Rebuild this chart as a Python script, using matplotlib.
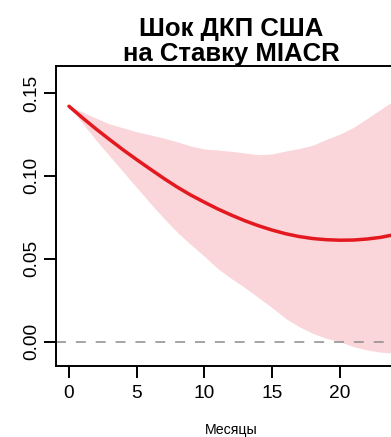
import matplotlib
matplotlib.use("Agg")
import matplotlib.pyplot as plt

# months 0..24 and impulse response values
months = list(range(25))
irf = [0.1420, 0.1350, 0.1283, 0.1219, 0.1157, 0.1098, 0.1041, 0.0985, 0.0932,
       0.0884, 0.0841, 0.0800, 0.0763, 0.0729, 0.0699, 0.0673, 0.0651, 0.0634,
       0.0622, 0.0615, 0.0612, 0.0613, 0.0619, 0.0629, 0.0645]
upper = [0.1420, 0.1385, 0.1348, 0.1313, 0.1290, 0.1266, 0.1247, 0.1228, 0.1205,
         0.1180, 0.1162, 0.1156, 0.1148, 0.1138, 0.1128, 0.1132, 0.1150, 0.1165,
         0.1185, 0.1220, 0.1252, 0.1292, 0.1345, 0.1400, 0.1455]
lower = [0.1420, 0.1318, 0.1215, 0.1120, 0.1025, 0.0930, 0.0835, 0.0745, 0.0660,
         0.0585, 0.0515, 0.0440, 0.0380, 0.0325, 0.0265, 0.0205, 0.0140, 0.0090,
         0.0050, 0.0020, 0.0000, -0.0030, -0.0050, -0.0063, -0.0070]

xticks = [0, 5, 10, 15, 20]
yticks = [0.00, 0.05, 0.10, 0.15]

plt.rcParams['font.family'] = ['Liberation Sans', 'DejaVu Sans']

fig = plt.figure(figsize=(3.91, 4.37), dpi=100)
# axes runs past the right edge, like the cropped original
ax = fig.add_axes([56 / 391, 1 - 366 / 437, 351 / 391, 300 / 437])

ax.fill_between(months, lower, upper, color='#FAD5D9', linewidth=0)
ax.axhline(0, color='#8c8c8c', lw=1.1, linestyle=(0, (6.5, 6.5)))
ax.plot(months, irf, color='#E3191F', lw=2.5, solid_capstyle='round')

ax.set_xlim(-0.96, 24.96)
ax.set_ylim(-0.0147, 0.1663)
ax.set_xticks(xticks)
ax.set_yticks(yticks)
ax.set_xticklabels([str(t) for t in xticks])
ax.set_yticklabels(['%.2f' % t for t in yticks])

for s in ax.spines.values():
    s.set_linewidth(1.4)
ax.tick_params(axis='both', length=8.5, width=1.4, labelsize=13.8)
ax.tick_params(axis='x', pad=5)
ax.tick_params(axis='y', pad=2.5, labelrotation=90)
for lab in ax.get_yticklabels():
    lab.set_va('center')

ax.set_xlabel('Месяцы', fontsize=10.2, labelpad=15)
ax.set_title('Шок ДКП США\nна Ставку MIACR', fontsize=18.5, fontweight='bold',
             linespacing=1.05, pad=3)

fig.savefig('out.png', dpi=100)
